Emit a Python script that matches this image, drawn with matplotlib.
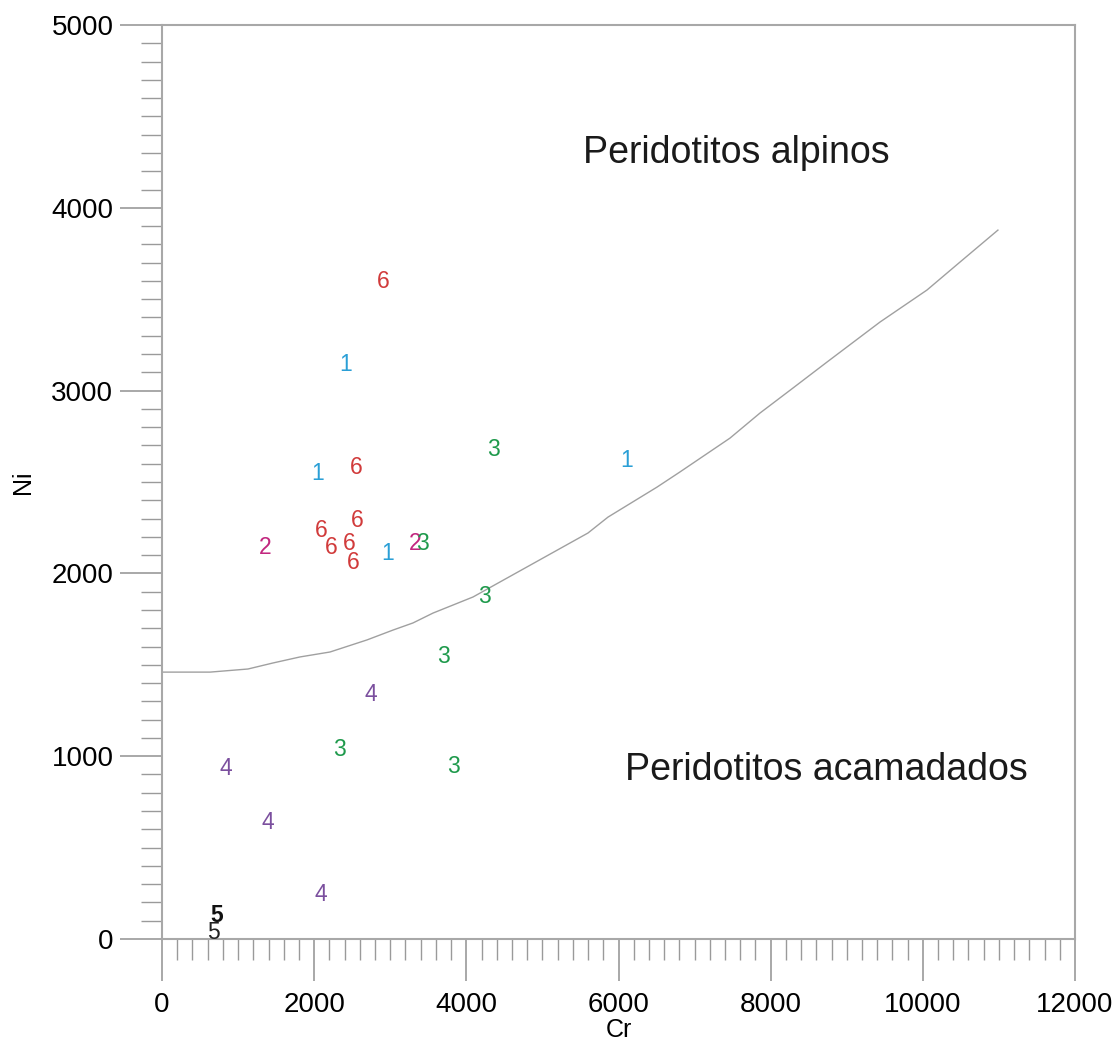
import matplotlib
matplotlib.use("Agg")
import matplotlib.pyplot as plt
from matplotlib.ticker import MultipleLocator

plt.rcParams['font.family'] = ['Liberation Sans', 'DejaVu Sans']

# Sample points (Cr, Ni) with group label
cr = [2905, 2418, 4363, 6112, 2050, 2550, 2090, 2563, 1354, 2221, 2458, 2510,
      2970, 3325, 3417, 4232, 3706, 2747, 2326, 3825, 841, 1393, 2090, 723, 670]
ni = [3599, 3145, 2680, 2620, 2544, 2582, 2232, 2287, 2139, 2139, 2166, 2062,
      2111, 2166, 2166, 1876, 1548, 1340, 1039, 941, 930, 635, 246, 131, 38]
group = ['6', '1', '3', '1', '1', '6', '6', '6', '2', '6', '6', '6',
         '1', '2', '3', '3', '3', '4', '3', '3', '4', '4', '4', '5b', '5']

group_colors = {'1': '#2a9fd6', '2': '#c2277f', '3': '#1f9a4c', '4': '#7b4f9e',
                '5': '#222222', '5b': '#111111', '6': '#d13b3b'}

# Discriminant boundary curve
curve_cr = [0, 631, 1130, 1459, 1814, 2208, 2694, 3036, 3299, 3562, 4088, 4442,
            5599, 5862, 6506, 6808, 7465, 7859, 8293, 8740, 9437, 10054, 10488, 10987]
curve_ni = [1460, 1460, 1477, 1510, 1543, 1570, 1636, 1690, 1729, 1783, 1871, 1953,
            2221, 2308, 2472, 2555, 2740, 2877, 3014, 3156, 3375, 3550, 3703, 3878]

fig = plt.figure(figsize=(11.13, 10.48), dpi=100)
ax = fig.add_axes([162/1113, 1-939/1048, (1075-162)/1113, (939-25)/1048])

ax.plot(curve_cr, curve_ni, color='#a0a0a0', lw=1.0)

for x, y, g in zip(cr, ni, group):
    label = '5' if g.startswith('5') else g
    ax.text(x, y, label, color=group_colors[g], fontsize=16.5,
            fontweight='bold' if g == '5b' else 'normal',
            ha='center', va='center')

ax.text(7544, 4299, 'Peridotitos alpinos', fontsize=27, ha='center', va='center', color='#1a1a1a')
ax.text(8727, 924, 'Peridotitos acamadados', fontsize=27, ha='center', va='center', color='#1a1a1a')

ax.set_xlim(0, 12000)
ax.set_ylim(0, 5000)
ax.xaxis.set_major_locator(MultipleLocator(2000))
ax.xaxis.set_minor_locator(MultipleLocator(200))
ax.yaxis.set_major_locator(MultipleLocator(1000))
ax.yaxis.set_minor_locator(MultipleLocator(100))

ax.tick_params(which='major', length=30, width=1.2, color='#9a9a9a', labelsize=20, pad=5)
ax.tick_params(which='minor', length=15, width=1.0, color='#9a9a9a')
ax.tick_params(axis='x', which='major', pad=8)

for s in ax.spines.values():
    s.set_color('#a8a8a8')
    s.set_linewidth(1.5)

ax.set_xlabel('Cr', fontsize=18, labelpad=0)
ax.set_ylabel('Ni', fontsize=18, labelpad=12)

fig.savefig('out.png', dpi=100)
